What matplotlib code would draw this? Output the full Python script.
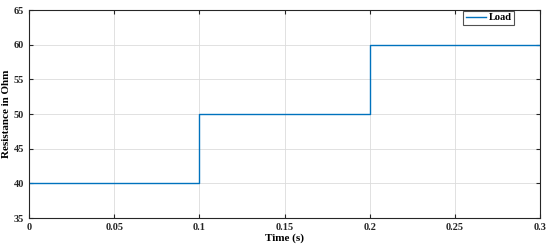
import matplotlib
matplotlib.use("Agg")
import matplotlib.pyplot as plt

time_s = [0.0, 0.1, 0.1, 0.2, 0.2, 0.3]
resistance = [40, 40, 50, 50, 60, 60]
xticks = [0, 0.05, 0.1, 0.15, 0.2, 0.25, 0.3]
xticklabels = ["0", "0.05", "0.1", "0.15", "0.2", "0.25", "0.3"]
yticks = [35, 40, 45, 50, 55, 60, 65]

plt.rcParams['font.family'] = ['Liberation Serif', 'DejaVu Serif']
plt.rcParams['font.weight'] = 'bold'

fig = plt.figure(figsize=(5.5, 2.5), dpi=100)
ax = fig.add_axes([0.053, 0.128, 0.929, 0.832])
ax.plot(time_s, resistance, color='#0072BD', lw=1.0, label='Load')
ax.set_xlim(0, 0.3)
ax.set_ylim(35, 65)
ax.set_xticks(xticks)
ax.set_xticklabels(xticklabels)
ax.set_yticks(yticks)
ax.grid(True, color='#dcdcdc', lw=0.6)
ax.tick_params(direction='in', top=True, right=True, labelsize=7.5, length=3, width=0.8, colors='#262626')
for lbl in ax.get_xticklabels() + ax.get_yticklabels():
    lbl.set_fontweight('bold')
for s in ax.spines.values():
    s.set_color('#262626')
    s.set_linewidth(0.8)
ax.set_xlabel('Time (s)', fontsize=8, fontweight='bold', labelpad=1)
ax.set_ylabel('Resistance in Ohm', fontsize=8, fontweight='bold', labelpad=2)
leg = ax.legend(loc='upper right', bbox_to_anchor=(0.95, 1.0), fontsize=7.5, frameon=True, fancybox=False,
                edgecolor='#262626', handlelength=2.0, handletextpad=0.2, borderpad=0.2, borderaxespad=0.1)
leg.get_frame().set_linewidth(0.8)
for t in leg.get_texts():
    t.set_fontweight('bold')
fig.savefig('out.png', dpi=100)
